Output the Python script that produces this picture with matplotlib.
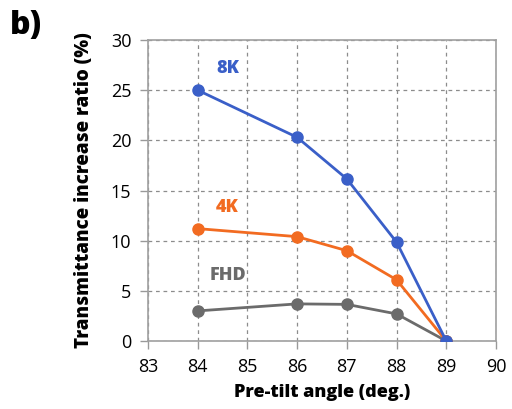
import matplotlib
matplotlib.use("Agg")
import matplotlib.pyplot as plt

angles = [84, 86, 87, 88, 89]
k8 = [25.0, 20.3, 16.15, 9.85, 0.0]
k4 = [11.2, 10.4, 9.0, 6.1, 0.0]
fhd = [3.0, 3.7, 3.65, 2.7, 0.0]
xticks = [83, 84, 85, 86, 87, 88, 89, 90]
yticks = [0, 5, 10, 15, 20, 25, 30]

c8 = "#3A5FC8"
c4 = "#F26B21"
cf = "#6B6B6B"

plt.rcParams['font.family'] = ['Open Sans', 'DejaVu Sans']

fig = plt.figure(figsize=(5.12, 4.09), dpi=100)
ax = fig.add_axes([148/512, 1-341/409, 348/512, 301/409])

ax.plot(angles, fhd, color=cf, lw=2, marker='o', ms=8, zorder=3)
ax.plot(angles, k4, color=c4, lw=2, marker='o', ms=8, zorder=4)
ax.plot(angles, k8, color=c8, lw=2, marker='o', ms=8, zorder=5)

ax.text(84.6, 27.2, "8K", color=c8, fontsize=13, fontweight='heavy', ha='center', va='center')
ax.text(84.6, 13.3, "4K", color=c4, fontsize=13, fontweight='heavy', ha='center', va='center')
ax.text(84.6, 6.5, "FHD", color=cf, fontsize=13, fontweight='heavy', ha='center', va='center')

ax.set_xlim(83, 90)
ax.set_ylim(0, 30)
ax.set_xticks(xticks)
ax.set_yticks(yticks)
ax.tick_params(labelsize=13, length=6, color='#999999', width=1, pad=6)
ax.grid(True, ls=(0, (3, 3)), color='#8C8C8C', lw=0.9)
ax.set_axisbelow(True)
for s in ax.spines.values():
    s.set_color('#A0A0A0')
    s.set_linewidth(1.2)

ax.set_xlabel("Pre-tilt angle (deg.)", fontsize=13, fontweight='heavy', labelpad=6)
ax.set_ylabel("Transmittance increase ratio (%)", fontsize=13.5, fontweight='heavy', labelpad=12)

fig.text(10/512, 1-26/409, "b)", fontsize=23, fontweight='heavy', va='center', ha='left')

fig.savefig("out.png", dpi=100)
